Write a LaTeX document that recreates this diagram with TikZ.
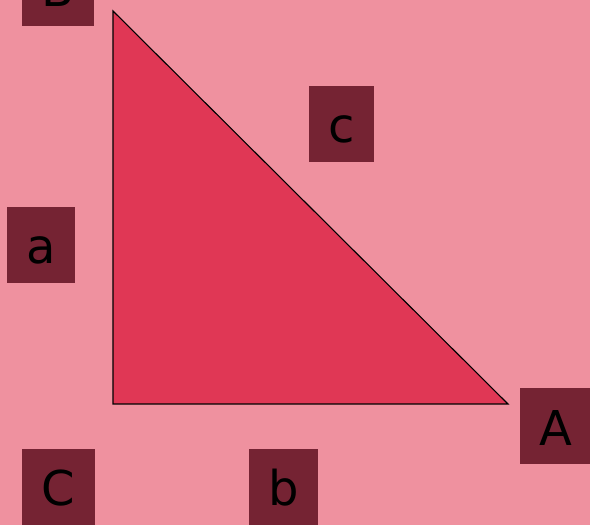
\documentclass[tikz,border=0pt]{standalone}
\usepackage{fontspec}
\setmainfont{DejaVu Sans}
\usetikzlibrary{positioning,calc}
\definecolor{BgPink}{HTML}{EF919F}
\definecolor{TriRed}{HTML}{E03755}
\definecolor{TagWine}{HTML}{752333}

\begin{document}
\begin{tikzpicture}[
      x=1pt,y=1pt,
      tag/.style={fill=TagWine,text=black,inner xsep=19.5pt,inner ysep=5pt,
                  text height=52pt,text depth=14pt,
                  font=\fontsize{48}{58}\selectfont},
      tri/.style={draw=black,line width=1.1pt,fill=TriRed},
    ]
    \fill[BgPink] (0,0) rectangle (590,525);
    \useasboundingbox (0,0) rectangle (590,525);

    \coordinate (vC) at (113,121);
    \coordinate (vB) at (113,514);
    \coordinate (vA) at (508,121);
    \draw[tri] (vC) -- (vB) -- (vA) -- cycle;

    \node[tag] (lblB) at (58,537)    {B};
    \node[tag] (lbla) at (41,280)    {a};
    \node[tag] (lblc) at (341.5,401) {c};
    \node[tag] (lblA) at (555.5,98.5){A};
    \node[tag] (lblC) at (58.5,38)   {C};
    \node[tag] (lblb) at (283.5,38)  {b};
  \end{tikzpicture}
\end{document}
